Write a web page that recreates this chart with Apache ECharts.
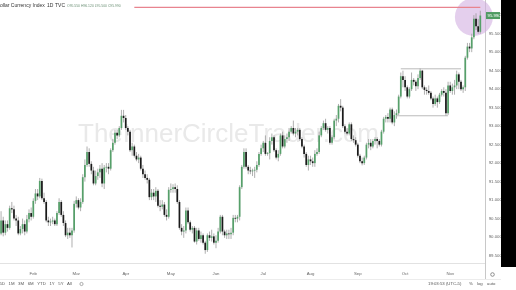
<!DOCTYPE html>
<html><head><meta charset="utf-8">
<script src="https://cdn.jsdelivr.net/npm/echarts@6/dist/echarts.min.js"></script>
<style>html,body{margin:0;padding:0;background:#fff;overflow:hidden}#c{width:516px;height:290px}</style>
</head><body><div id="c"></div>
<script>
// ---- data (U.S. Dollar Currency Index, daily, Jan 11 – Nov 19) ----
const opens = [
 90.10,90.45,90.12,90.35,90.25,90.78,90.75,90.50,90.45,90.10,
 90.22,90.35,90.15,90.48,90.65,90.55,90.98,91.18,91.10,91.52,
 91.05,90.95,90.45,90.40,90.42,90.45,90.35,90.65,90.95,90.60,
 90.38,90.05,90.12,90.05,90.18,90.90,91.00,90.80,90.95,91.62,
 91.95,92.30,91.98,91.80,91.45,91.65,91.75,91.85,91.45,91.88,
 91.90,91.85,92.35,92.55,92.82,92.75,92.95,93.28,93.22,92.95,
 92.85,92.35,92.45,92.20,92.10,92.15,91.85,91.70,91.60,91.55,
 91.08,91.20,91.10,91.25,90.85,90.82,90.88,90.60,90.55,91.28,
 91.30,91.35,91.30,90.95,90.25,90.15,90.18,90.72,90.40,90.20,
 90.25,89.88,90.18,89.95,90.05,89.85,89.65,90.05,89.98,90.02,
 89.85,89.90,90.15,90.55,90.15,90.05,90.10,90.08,90.12,90.52,
 90.50,90.55,91.35,91.90,92.30,91.90,91.80,91.78,91.80,91.82,
 91.95,92.25,92.40,92.55,92.25,92.27,92.60,92.70,92.35,92.15,
 92.25,92.75,92.45,92.65,92.70,92.85,92.95,92.80,92.85,92.90,
 92.65,92.45,92.25,91.95,92.10,92.05,92.00,92.25,92.30,92.75,
 92.95,93.08,92.90,92.95,92.55,92.70,93.15,93.20,93.55,93.50,
 93.00,92.85,92.80,93.05,92.65,92.62,92.50,92.20,92.05,92.00,
 92.15,92.50,92.55,92.45,92.60,92.65,92.60,92.50,92.85,93.20,
 93.25,93.20,93.45,93.10,93.30,93.35,93.80,94.35,94.25,94.05,
 93.80,94.00,94.25,94.20,94.08,94.30,94.50,94.05,93.98,93.95,
 93.90,93.75,93.60,93.75,93.65,93.85,93.95,93.90,93.35,94.10,
 93.95,94.05,94.10,94.40,94.20,94.00,94.05,94.85,95.15,95.10,
 95.40,95.90,95.70,95.55];
const closes = [
 90.45,90.12,90.35,90.25,90.78,90.75,90.50,90.45,90.10,90.22,
 90.35,90.15,90.48,90.65,90.55,90.98,91.18,91.10,91.52,91.05,
 90.95,90.45,90.40,90.42,90.45,90.35,90.65,90.95,90.60,90.38,
 90.05,90.12,90.05,90.18,90.90,91.00,90.80,90.95,91.62,91.95,
 92.30,91.98,91.80,91.45,91.65,91.75,91.85,91.45,91.88,91.90,
 91.85,92.35,92.55,92.82,92.75,92.95,93.28,93.22,92.95,92.85,
 92.35,92.45,92.20,92.10,92.15,91.85,91.70,91.60,91.55,91.08,
 91.20,91.10,91.25,90.85,90.82,90.88,90.60,90.55,91.28,91.30,
 91.35,91.30,90.95,90.25,90.15,90.18,90.72,90.40,90.20,90.25,
 89.88,90.18,89.95,90.05,89.85,89.65,90.05,89.98,90.02,89.85,
 89.90,90.15,90.55,90.15,90.05,90.10,90.08,90.12,90.52,90.50,
 90.55,91.35,91.90,92.30,91.90,91.80,91.78,91.80,91.82,91.95,
 92.25,92.40,92.55,92.25,92.27,92.60,92.70,92.35,92.15,92.25,
 92.75,92.45,92.65,92.70,92.85,92.95,92.80,92.85,92.90,92.65,
 92.45,92.25,91.95,92.10,92.05,92.00,92.25,92.30,92.75,92.95,
 93.08,92.90,92.95,92.55,92.70,93.15,93.20,93.55,93.50,93.00,
 92.85,92.80,93.05,92.65,92.62,92.50,92.20,92.05,92.00,92.15,
 92.50,92.55,92.45,92.60,92.65,92.60,92.50,92.85,93.20,93.25,
 93.20,93.45,93.10,93.30,93.35,93.80,94.35,94.25,94.05,93.80,
 94.00,94.25,94.20,94.08,94.30,94.50,94.05,93.98,93.95,93.90,
 93.75,93.60,93.75,93.65,93.85,93.95,93.90,93.35,94.10,93.95,
 94.05,94.10,94.40,94.20,94.00,94.05,94.85,95.15,95.10,95.40,
 95.90,95.70,95.55,95.99];
const lows = [
 90.05,90.02,90.05,90.15,90.20,90.65,90.45,90.30,90.05,90.05,
 90.10,90.05,90.10,90.40,90.45,90.50,90.90,91.00,91.05,91.00,
 90.90,90.40,90.30,90.30,90.35,90.30,90.30,90.60,90.55,90.30,
 90.00,89.95,89.98,89.72,90.12,90.80,90.75,90.70,90.90,91.50,
 91.90,91.90,91.70,91.40,91.40,91.55,91.60,91.35,91.30,91.75,
 91.70,91.80,92.30,92.50,92.65,92.70,92.90,93.10,92.90,92.75,
 92.30,92.20,92.15,92.05,92.00,91.80,91.60,91.55,91.45,91.00,
 91.00,91.00,90.95,90.80,90.70,90.75,90.55,90.45,90.50,91.20,
 91.20,91.20,90.90,90.20,90.05,89.98,90.10,90.35,90.15,90.10,
 89.85,89.80,89.90,89.85,89.80,89.55,89.60,89.90,89.88,89.80,
 89.70,89.85,90.10,90.05,89.98,89.95,89.95,89.95,90.05,90.40,
 90.40,90.45,91.30,91.85,91.85,91.70,91.70,91.65,91.60,91.75,
 91.90,92.20,92.30,92.20,92.20,92.10,92.50,92.30,92.10,92.05,
 92.20,92.40,92.40,92.55,92.60,92.80,92.75,92.70,92.75,92.60,
 92.40,92.15,91.90,91.80,91.95,91.90,91.90,92.20,92.25,92.70,
 92.90,92.85,92.80,92.50,92.50,92.65,93.00,93.10,93.40,92.95,
 92.80,92.75,92.75,92.60,92.55,92.45,92.15,92.00,91.94,91.95,
 92.10,92.40,92.35,92.40,92.50,92.40,92.45,92.45,92.80,93.10,
 93.10,93.10,93.05,93.00,93.20,93.30,93.75,94.05,93.95,93.75,
 93.75,93.95,94.10,93.95,94.00,94.25,94.00,93.85,93.85,93.85,
 93.70,93.50,93.55,93.50,93.60,93.80,93.80,93.28,93.30,93.90,
 93.85,93.85,94.00,94.00,93.95,93.90,93.95,94.80,95.00,95.00,
 95.35,95.60,95.50,95.50];
const highs = [
 90.70,90.55,90.45,90.45,90.85,90.95,90.85,90.60,90.55,90.30,
 90.50,90.45,90.60,90.75,90.80,91.05,91.30,91.30,91.60,91.58,
 91.20,91.00,90.55,90.50,90.55,90.50,90.70,91.05,91.00,90.70,
 90.45,90.25,90.25,90.25,90.98,91.10,91.05,91.05,91.70,92.10,
 92.45,92.40,92.05,91.90,91.80,91.85,91.95,92.00,91.95,92.00,
 92.00,92.40,92.65,92.90,92.90,93.00,93.44,93.44,93.30,93.00,
 92.90,92.55,92.50,92.30,92.25,92.20,91.95,91.80,91.70,91.60,
 91.30,91.30,91.35,91.30,91.00,91.00,90.95,90.75,91.35,91.45,
 91.43,91.45,91.40,91.00,90.35,90.30,90.80,90.80,90.45,90.30,
 90.30,90.25,90.25,90.15,90.10,89.90,90.10,90.15,90.20,90.10,
 90.05,90.25,90.60,90.60,90.20,90.20,90.20,90.25,90.60,90.60,
 90.60,91.40,91.95,92.40,92.40,91.95,91.90,91.85,91.90,92.05,
 92.30,92.50,92.60,92.75,92.30,92.70,92.80,92.75,92.40,92.35,
 92.80,92.85,92.75,92.80,92.95,93.00,93.15,92.95,92.95,92.95,
 92.70,92.50,92.30,92.20,92.20,92.15,92.35,92.40,92.85,93.00,
 93.15,93.20,93.00,93.00,92.75,93.20,93.30,93.60,93.73,93.55,
 93.05,92.95,93.10,93.10,92.75,92.70,92.55,92.25,92.15,92.20,
 92.55,92.65,92.65,92.65,92.70,92.70,92.65,92.90,93.25,93.30,
 93.35,93.50,93.50,93.40,93.45,93.85,94.45,94.50,94.35,94.10,
 94.05,94.45,94.30,94.25,94.40,94.56,94.52,94.10,94.05,94.10,
 93.95,93.80,93.85,93.80,93.90,94.00,94.05,94.00,94.20,94.20,
 94.15,94.25,94.50,94.45,94.25,94.10,94.90,95.25,95.25,95.50,
 96.00,96.05,95.90,96.12];
const monthLabels = ['Feb','Mar','Apr','May','Jun','Jul','Aug','Sep','Oct','Nov'];
const monthStartIdx = [15,35,58,79,100,122,144,166,188,209];
const priceTicks = [89.5,90.0,90.5,91.0,91.5,92.0,92.5,93.0,93.5,94.0,94.5,95.0,95.5,96.0];
const resistanceLine = [[62, 96.21], [223, 96.21]];
const rangeTopLine = [[186, 94.55], [214, 94.55]];
const rangeBottomLine = [[184, 93.28], [208, 93.28]];
const highlightPoint = [[220, 95.95]];

// ---- chart ----
const n = opens.length;
const cats = [];
for (let i = 0; i < n + 2; i++) cats.push(i);
const candleData = opens.map((o, i) => [i, o, closes[i], lows[i], highs[i]]);
const UP = '#56a06a', DOWN = '#1a1a1a', WICK = '#9a9a9a';
const FONT = 'Liberation Sans';

function renderCandle(params, api) {
  const i = api.value(0), o = api.value(1), c = api.value(2), l = api.value(3), h = api.value(4);
  const pO = api.coord([i, o]), pC = api.coord([i, c]);
  const pL = api.coord([i, l]), pH = api.coord([i, h]);
  const bw = api.size([1, 0])[0] * 0.8;
  const x = pO[0];
  const top = Math.min(pO[1], pC[1]), bot = Math.max(pO[1], pC[1]);
  return {
    type: 'group',
    children: [
      {type: 'line', shape: {x1: x, y1: pH[1], x2: x, y2: pL[1]}, style: {stroke: WICK, lineWidth: 0.8}},
      {type: 'rect', shape: {x: x - bw / 2, y: top, width: bw, height: Math.max(bot - top, 0.8)},
       style: {fill: c >= o ? UP : DOWN}}
    ]
  };
}

const chart = echarts.init(document.getElementById('c'), null, {renderer: 'canvas'});
const lastUp = closes[n - 1] >= opens[n - 1];
const f3 = v => v.toFixed(3);
const ohlcText = 'O' + f3(opens[n-1]) + ' H' + f3(highs[n-1]) + ' L' + f3(lows[n-1]) + ' C' + f3(closes[n-1]);

const baseGraphic = [
  {id: 'wm', type: 'text', left: 78, top: 122, z: 0, silent: true,
   style: {text: 'TheInnerCircleTrader.com', font: '26px "Liberation Sans"', fill: '#e9e9e9'}},
  {id: 'title', type: 'text', left: -14.7, top: 3.5, z: 10,
   style: {text: 'U.S. Dollar Currency Index', font: '5px "Liberation Sans"', fill: '#333'}},
  {id: 'tf', type: 'text', left: 47, top: 3.5, z: 10,
   style: {text: '1D', font: '5px "Liberation Sans"', fill: '#333'}},
  {id: 'ex', type: 'text', left: 55, top: 3.5, z: 10,
   style: {text: 'TVC', font: '5px "Liberation Sans"', fill: '#333'}},
  {id: 'ohlc', type: 'text', left: 67, top: 4.3, z: 10,
   style: {text: ohlcText, font: '3.4px "Liberation Sans"', fill: '#6a8f74'}},
  {id: 'sep1', type: 'line', z: 5, shape: {x1: 0, y1: 279.5, x2: 501, y2: 279.5}, style: {stroke: '#ececec', lineWidth: 1}},
  {id: 'vax', type: 'line', z: 5, shape: {x1: 485.5, y1: 263, x2: 485.5, y2: 279}, style: {stroke: '#c8c8c8', lineWidth: 1}},
  {id: 'ranges', type: 'text', left: -0.5, top: 282, z: 10,
   style: {text: '5D   1M   3M   6M   YTD   1Y   5Y   All', font: '4.3px "Liberation Sans"', fill: '#555'}},
  {id: 'cal', type: 'circle', z: 10, shape: {cx: 81.5, cy: 284, r: 1.6}, style: {fill: 'none', stroke: '#777', lineWidth: 0.6}},
  {id: 'clock', type: 'text', left: 428, top: 282, z: 10,
   style: {text: '19:03:53 (UTC-5)', font: '4.3px "Liberation Sans"', fill: '#555'}},
  {id: 'pct', type: 'text', left: 469, top: 282, z: 10,
   style: {text: '%', font: '4.3px "Liberation Sans"', fill: '#555'}},
  {id: 'log', type: 'text', left: 477, top: 282, z: 10,
   style: {text: 'log', font: '4.3px "Liberation Sans"', fill: '#555'}},
  {id: 'auto', type: 'text', left: 487, top: 282, z: 10,
   style: {text: 'auto', font: '4.3px "Liberation Sans"', fill: '#555'}},
  {id: 'gear', type: 'circle', z: 10, shape: {cx: 492.5, cy: 274.5, r: 1.8}, style: {fill: 'none', stroke: '#666', lineWidth: 0.7}},
  {id: 'black', type: 'rect', z: 20, shape: {x: 501, y: 0, width: 15, height: 267}, style: {fill: '#000'}}
];

chart.setOption({
  animation: false,
  backgroundColor: '#fff',
  textStyle: {fontFamily: FONT},
  grid: {left: -2.5, right: 30.3, top: 0, bottom: 27, containLabel: false},
  xAxis: {
    type: 'category', data: cats, boundaryGap: true,
    axisLine: {show: true, lineStyle: {color: '#e2e2e2', width: 1}},
    axisTick: {show: false}, splitLine: {show: false},
    axisLabel: {
      interval: (idx) => monthStartIdx.indexOf(idx) >= 0,
      formatter: (v, idx) => { const k = monthStartIdx.indexOf(Number(v)); return k >= 0 ? monthLabels[k] : ''; },
      fontSize: 4.3, color: '#666', margin: 9
    }
  },
  yAxis: {
    type: 'value', position: 'right', min: 89.30, max: 96.41, scale: true,
    axisLine: {show: true, lineStyle: {color: '#c8c8c8', width: 1}},
    axisTick: {show: false}, splitLine: {show: false},
    axisLabel: {customValues: priceTicks, formatter: v => v.toFixed(3), fontSize: 4.3, color: '#666', margin: 3}
  },
  graphic: baseGraphic,
  series: [
    {type: 'scatter', data: highlightPoint, symbolSize: 38, z: 1, silent: true,
     itemStyle: {color: 'rgba(208,172,224,0.72)'}},
    {type: 'custom', renderItem: renderCandle, data: candleData, encode: {x: 0, y: [1, 2, 3, 4]}, z: 3, clip: true},
    {type: 'line', data: resistanceLine, symbol: 'none', z: 4, silent: true,
     lineStyle: {color: '#e8848f', width: 1.4}},
    {type: 'line', data: rangeTopLine, symbol: 'none', z: 4, silent: true,
     lineStyle: {color: '#a8a8a8', width: 0.8}},
    {type: 'line', data: rangeBottomLine, symbol: 'none', z: 4, silent: true,
     lineStyle: {color: '#a8a8a8', width: 0.8}}
  ]
});

const yLast = chart.convertToPixel({yAxisIndex: 0}, closes[n - 1]);
chart.setOption({graphic: [
  {id: 'lastBox', type: 'rect', z: 15, shape: {x: 486, y: yLast - 3.5, width: 14, height: 7},
   style: {fill: lastUp ? '#4f9a62' : '#333'}},
  {id: 'lastTxt', type: 'text', z: 16, left: 487.5, top: yLast - 2.2,
   style: {text: f3(closes[n - 1]), font: '4.3px "Liberation Sans"', fill: '#fff'}}
]});
</script>
</body></html>
